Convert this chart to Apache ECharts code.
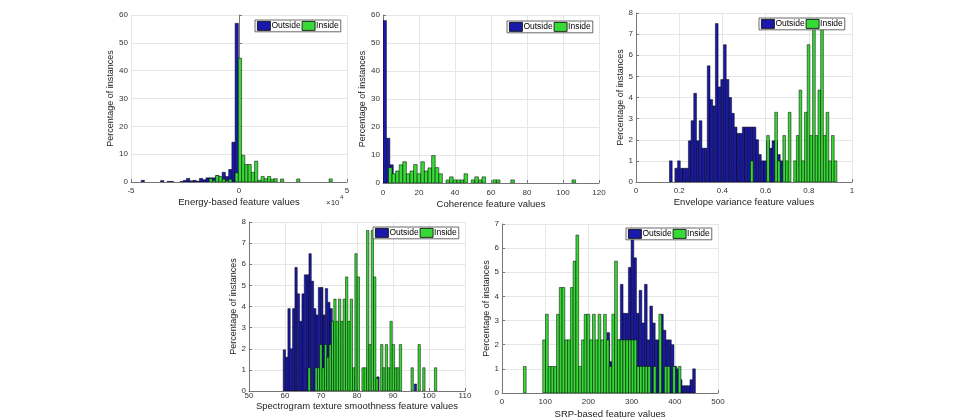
<!DOCTYPE html>
<html>
<head>
<meta charset="utf-8">
<script src="https://cdn.jsdelivr.net/npm/echarts@6/dist/echarts.min.js"></script>
<style>
  html, body { margin: 0; padding: 0; background: #fff; }
  #chart { width: 964px; height: 418px; }
</style>
</head>
<body>
<div id="chart"></div>
<script>
// histogram heights (% of instances), one value per bin; bins start at *Start and are *W wide
// Energy-based (x in units of 1e4)
const energyW = 0.15;
const energyOutStart = -4.53;
const energyOut = [0.6, 0, 0, 0, 0, 0, 0.5, 0, 0.2, 0.2, 0, 0, 0.2, 0.6, 1.3, 0.4, 0.6, 0.3, 1.3, 0.8,
  1.5, 1.5, 1.5, 2.3, 1.5, 3.5, 2, 4.5, 14.3, 57];
const energyInStart = -1.53;
const energyIn = [0, 1.2, 0.6, 2.3, 2.0, 1.0, 0.5, 1.0, 0, 3.3, 44.5, 9.6, 6.3, 6.3, 3.5, 7.5, 0.6, 2.0, 1.2, 2.0,
  1.0, 1.2, 0, 1.1, 0, 0, 0, 0, 1.1, 0, 0, 0, 0, 0, 0, 0, 0, 0, 1.1];

// Coherence
const cohOutStart = 0, cohOutW = 1.9;
const cohOut = [58, 16, 6.5];
const cohInStart = 3, cohInW = 2;
const cohIn = [5.5, 3.3, 4.3, 6.5, 7.6, 3.3, 4.3, 6.6, 3.3, 7.6, 4.3, 5.4, 9.8, 5.5, 3.3,
  0, 1.1, 2.2, 1.1, 1.1, 1.1, 3.3, 0, 1.1, 2.2, 1.1, 2.2, 0, 0, 1.1, 1.1, 0, 0, 0, 1.1,
  0, 0, 0, 0, 0, 0, 0, 0, 0, 0, 0, 0, 0, 0, 0, 0, 1.1];

// Envelope variance
const envW = 0.0125;
const envOutStart = 0.155;
const envOut = [1.0, 0, 0.65, 1.0, 0.65, 0.65, 0.65, 1.95, 2.9, 4.2, 1.95, 2.9, 1.6, 1.6,
  5.5, 3.9, 3.6, 7.5, 4.5, 4.85, 6.5, 4.85, 4.0, 3.25, 2.6, 2.3, 2.3, 2.6,
  2.6, 2.6, 2.6, 2.6, 2.0, 1.3, 1.0, 1.0, 1.95, 1.6, 1.95, 1.95, 1.3, 1.0];
const envInStart = 0.53;
const envIn = [1.0, 0, 0, 0, 0, 0, 2.2, 0, 0, 3.3, 1.0, 0, 2.2, 1.0, 3.3, 0, 1.0, 2.2,
  4.35, 1.0, 3.3, 6.5, 2.2, 7.6, 2.2, 4.35, 7.6, 2.2, 3.3, 1.0, 2.2, 1.0];

// Spectrogram texture smoothness
const specW = 0.65;
const specOutStart = 59.5;
const specOut = [1.95, 1.6, 3.9, 2.0, 3.9, 5.85, 4.6, 3.3, 4.6, 5.5, 5.5, 6.5, 5.2, 3.9, 3.6, 4.9, 4.9,
  3.6, 4.85, 4.2, 3.9, 3.3, 2.5, 0, 0, 0, 0, 0, 0, 0, 0.67, 0, 0, 0, 0, 0, 0, 0, 0, 0, 0.67,
  0, 0, 0, 0, 0, 0, 0, 0, 0, 0, 0, 0, 0, 0, 0, 0.33];
const specInStart = 66.4;
const specIn = [1.1, 0, 0, 1.1, 1.1, 2.2, 1.1, 2.2, 1.6, 2.2, 3.3, 4.35, 3.3, 4.35, 3.3, 4.35, 5.4, 3.3,
  4.35, 1.1, 6.5, 5.4, 0, 1.1, 1.1, 7.6, 2.2, 7.6, 5.4, 0.6, 0, 2.2, 1.1, 2.2, 1.1, 3.3, 2.2, 1.1,
  1.1, 2.2, 0, 0, 0, 0, 1.1, 0, 0, 2.2, 0, 1.1, 0, 0, 0, 0, 1.1];

// SRP-based
const srpOutStart = 243, srpOutW = 6.2;
const srpOut = [2.5, 1.3, 0, 2.0, 2.2, 4.5, 3.3, 3.3, 5.2, 6.6, 5.6, 3.3, 4.25, 2.9, 4.5, 2.2, 3.6,
  2.9, 2.2, 2.2, 3.26, 2.6, 2.2, 2.2, 2.0, 1.1, 1.0, 0.55, 0.3, 0.3, 0.3, 0.55, 1.0];
const srpInStart = 49.5, srpInW = 6.4;
const srpIn = [1.1, 0, 0, 0, 0, 0, 0, 2.2, 3.26, 1.1, 1.1, 1.1, 3.26, 4.37, 4.37, 2.2, 2.2, 4.37,
  5.46, 6.54, 1.1, 2.2, 3.26, 3.26, 2.2, 3.26, 2.2, 3.26, 2.2, 3.26, 2.2, 1.1, 3.26, 5.46, 2.2,
  2.2, 2.2, 2.2, 2.2, 2.2, 2.2, 1.1, 1.1, 1.1, 1.1, 1.1, 0, 1.1, 0, 3.26, 0, 1.1, 1.1, 0, 1.1, 0, 1.1];

const xNames = ['Energy-based feature values', 'Coherence feature values', 'Envelope variance feature values',
  'Spectrogram texture smoothness feature values', 'SRP-based feature values'];
const yName = 'Percentage of instances';

const BLUE = '#1a1aaa', GREEN = '#36d936';
const FONT = 'Liberation Sans';

function bins(start, w, heights) {
  return heights.map((h, i) => [start + i * w, start + (i + 1) * w, h]).filter(d => d[2] > 0);
}

const panels = [
  {grid: {left: 131, top: 15, width: 216, height: 167}, x: [-5, 5, 5], y: [0, 60, 10], xGap: 15, xMargin: 5, yGap: 15,
    legend: {left: 255, top: 20}, out: bins(energyOutStart, energyW, energyOut), inn: bins(energyInStart, energyW, energyIn)},
  {grid: {left: 383, top: 15, width: 216, height: 168}, x: [0, 120, 20], y: [0, 60, 10], xGap: 16, xMargin: 6, yGap: 14,
    legend: {left: 507, top: 21}, out: bins(cohOutStart, cohOutW, cohOut), inn: bins(cohInStart, cohInW, cohIn)},
  {grid: {left: 636, top: 13, width: 216, height: 169}, x: [0, 1, 0.2], y: [0, 8, 1], xGap: 15, xMargin: 5, yGap: 8,
    legend: {left: 759, top: 18}, out: bins(envOutStart, envW, envOut), inn: bins(envInStart, envW, envIn)},
  {grid: {left: 249, top: 222, width: 216, height: 169}, x: [50, 110, 10], y: [0, 8, 1], xGap: 5, xMargin: 1, yGap: 11,
    legend: {left: 373, top: 227}, out: bins(specOutStart, specW, specOut), inn: bins(specInStart, specW, specIn)},
  {grid: {left: 502, top: 224, width: 216, height: 169}, x: [0, 500, 100], y: [0, 7, 1], xGap: 16, xMargin: 5, yGap: 8,
    legend: {left: 626, top: 228}, out: bins(srpOutStart, srpOutW, srpOut), inn: bins(srpInStart, srpInW, srpIn)}
];

function renderBar(params, api) {
  const lo = api.coord([api.value(0), api.value(2)]);
  const hi = api.coord([api.value(1), 0]);
  return {
    type: 'rect',
    shape: {x: lo[0], y: lo[1], width: hi[0] - lo[0], height: hi[1] - lo[1]},
    style: {fill: api.visual('color'), stroke: '#000', lineWidth: 0.5}
  };
}

const option = {
  animation: false,
  backgroundColor: '#fff',
  textStyle: {fontFamily: FONT},
  grid: [], xAxis: [], yAxis: [], legend: [], series: [],
  graphic: [
    {type: 'text', left: 326, top: 199, style: {text: '×10', fontSize: 8, fill: '#333', fontFamily: FONT}},
    {type: 'text', left: 340, top: 194, style: {text: '4', fontSize: 6, fill: '#333', fontFamily: FONT}}
  ]
};

panels.forEach((p, i) => {
  option.grid.push(Object.assign({containLabel: false, outerBoundsMode: 'none'}, p.grid));
  option.xAxis.push({
    type: 'value', gridIndex: i, min: p.x[0], max: p.x[1], interval: p.x[2],
    name: xNames[i], nameLocation: 'middle', nameGap: p.xGap,
    nameTextStyle: {fontSize: 9.5, color: '#222', fontFamily: FONT},
    axisLine: {show: true, onZero: false, lineStyle: {color: '#777', width: 1}},
    axisTick: {show: true, inside: true, length: 3, lineStyle: {color: '#777'}},
    axisLabel: {fontSize: 8, color: '#333', margin: p.xMargin, fontFamily: FONT},
    splitLine: {show: true, lineStyle: {color: '#e6e6e6', width: 1}}
  });
  option.yAxis.push({
    type: 'value', gridIndex: i, min: p.y[0], max: p.y[1], interval: p.y[2],
    name: yName, nameLocation: 'middle', nameGap: p.yGap,
    nameTextStyle: {fontSize: 9, color: '#222', fontFamily: FONT},
    axisLine: {show: true, lineStyle: {color: '#777', width: 1}},
    axisTick: {show: true, inside: true, length: 3, lineStyle: {color: '#777'}},
    axisLabel: {fontSize: 8, color: '#333', margin: 3, fontFamily: FONT},
    splitLine: {show: true, lineStyle: {color: '#e6e6e6', width: 1}}
  });
  option.legend.push({
    data: ['Outside', 'Inside'], left: p.legend.left, top: p.legend.top,
    orient: 'horizontal', itemWidth: 13, itemHeight: 9, itemGap: 1, padding: [1, 2],
    icon: 'rect', selectedMode: false,
    backgroundColor: '#fff', borderColor: '#444', borderWidth: 0.8, borderRadius: 0,
    itemStyle: {borderColor: '#000', borderWidth: 0.8},
    textStyle: {fontSize: 8.5, color: '#000', fontFamily: FONT, padding: [0, 0, 0, -4]}
  });
  option.series.push({
    name: 'Outside', type: 'custom', xAxisIndex: i, yAxisIndex: i, clip: true,
    itemStyle: {color: BLUE}, encode: {x: [0, 1], y: 2}, renderItem: renderBar, data: p.out
  });
  option.series.push({
    name: 'Inside', type: 'custom', xAxisIndex: i, yAxisIndex: i, clip: true,
    itemStyle: {color: GREEN}, encode: {x: [0, 1], y: 2}, renderItem: renderBar, data: p.inn
  });
});

const chart = echarts.init(document.getElementById('chart'), null, {renderer: 'canvas'});
chart.setOption(option);
</script>
</body>
</html>
